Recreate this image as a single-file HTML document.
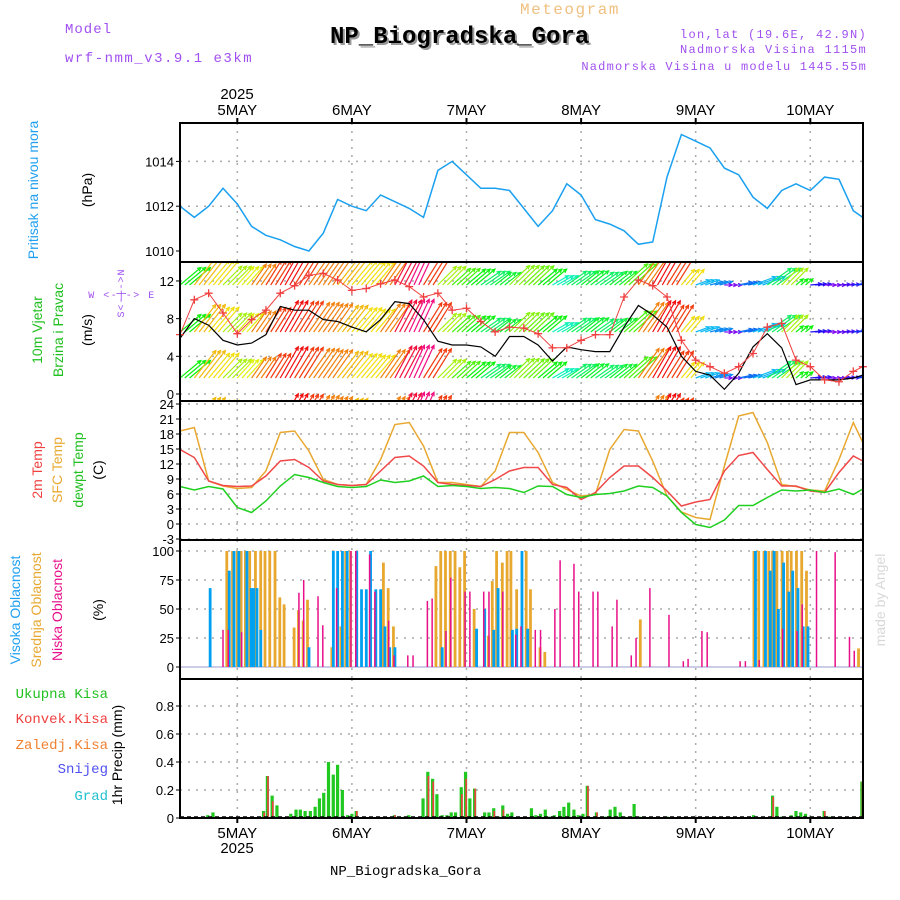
<!DOCTYPE html>
<html><head><meta charset="utf-8"><style>
html,body{margin:0;padding:0;background:#fff;}
svg{display:block;font-family:"Liberation Sans",sans-serif;}
.mono{font-family:"Liberation Mono",monospace;}
</style></head><body>
<svg id="chart" width="900" height="900" viewBox="0 0 900 900" xmlns="http://www.w3.org/2000/svg">
<defs><clipPath id="clipW"><rect x="180" y="262" width="683" height="139"/></clipPath></defs>
<text x="65" y="33" fill="#a050f0" font-size="14" class="mono" letter-spacing="1">Model</text>
<text x="65" y="62" fill="#a050f0" font-size="14" class="mono" letter-spacing="1.5">wrf-nmm_v3.9.1 e3km</text>
<text x="520" y="14" fill="#f0c080" font-size="16" class="mono" letter-spacing="1.5">Meteogram</text>
<text x="332" y="45" fill="#999" font-size="24" font-weight="bold" class="mono">NP_Biogradska_Gora</text>
<text x="330" y="43" fill="#000" font-size="24" font-weight="bold" class="mono">NP_Biogradska_Gora</text>
<text x="867" y="38" fill="#a050f0" font-size="12" text-anchor="end" class="mono" letter-spacing="1.3">lon,lat (19.6E, 42.9N)</text>
<text x="867" y="53" fill="#a050f0" font-size="12" text-anchor="end" class="mono" letter-spacing="1.3">Nadmorska Visina 1115m</text>
<text x="867" y="70" fill="#a050f0" font-size="12" text-anchor="end" class="mono" letter-spacing="1.2">Nadmorska Visina u modelu 1445.55m</text>
<text x="237" y="99" font-size="15" text-anchor="middle">2025</text>
<text x="330" y="875" font-size="14" class="mono">NP_Biogradska_Gora</text>
<text x="38" y="190" fill="#20a0f0" font-size="14" text-anchor="middle" transform="rotate(-90 38 190)">Pritisak na nivou mora</text>
<text x="92" y="190" font-size="14" text-anchor="middle" transform="rotate(-90 92 190)">(hPa)</text>
<text x="42" y="330" fill="#20c020" font-size="14" text-anchor="middle" transform="rotate(-90 42 330)">10m Vjetar</text>
<text x="63" y="330" fill="#20c020" font-size="14" text-anchor="middle" transform="rotate(-90 63 330)">Brzina i Pravac</text>
<text x="92" y="330" font-size="14" text-anchor="middle" transform="rotate(-90 92 330)">(m/s)</text>
<text x="124" y="293" fill="#a050f0" font-size="10" text-anchor="middle" transform="rotate(-90 124 293)" class="mono" letter-spacing="1">S&lt;-|-&gt;N</text>
<text x="122" y="298" fill="#a050f0" font-size="10" text-anchor="middle" class="mono" letter-spacing="1.5">W &lt;-|-&gt; E</text>
<text x="42" y="470" fill="#f04040" font-size="14" text-anchor="middle" transform="rotate(-90 42 470)">2m Temp</text>
<text x="62" y="470" fill="#e8a830" font-size="14" text-anchor="middle" transform="rotate(-90 62 470)">SFC Temp</text>
<text x="83" y="470" fill="#20c020" font-size="14" text-anchor="middle" transform="rotate(-90 83 470)">dewpt Temp</text>
<text x="103" y="470" font-size="14" text-anchor="middle" transform="rotate(-90 103 470)">(C)</text>
<text x="20" y="610" fill="#20a0f0" font-size="14" text-anchor="middle" transform="rotate(-90 20 610)">Visoka Oblacnost</text>
<text x="41" y="610" fill="#e8a830" font-size="14" text-anchor="middle" transform="rotate(-90 41 610)">Srednja Oblacnost</text>
<text x="62" y="610" fill="#e8108a" font-size="14" text-anchor="middle" transform="rotate(-90 62 610)">Niska Oblacnost</text>
<text x="103" y="610" font-size="14" text-anchor="middle" transform="rotate(-90 103 610)">(%)</text>
<text x="108" y="698" fill="#20c020" font-size="14" text-anchor="end" class="mono">Ukupna Kisa</text>
<text x="108" y="723" fill="#f04040" font-size="14" text-anchor="end" class="mono">Konvek.Kisa</text>
<text x="108" y="749" fill="#f08030" font-size="14" text-anchor="end" class="mono">Zaledj.Kisa</text>
<text x="108" y="773" fill="#5050f0" font-size="14" text-anchor="end" class="mono">Snijeg</text>
<text x="108" y="800" fill="#20c0d0" font-size="14" text-anchor="end" class="mono">Grad</text>
<text x="122" y="755" font-size="14" text-anchor="middle" transform="rotate(-90 122 755)">1hr Precip (mm)</text>
<text x="885" y="600" fill="#d8d8d8" font-size="14" text-anchor="middle" transform="rotate(-90 885 600)">made by Angel</text>
<text x="237" y="853" font-size="15" text-anchor="middle">2025</text>
<g id="grid"></g><g id="marks"></g><g id="frames"></g>
</svg>
<script>
// hours from 2025-05-04 12Z, 3-hourly series
const hours3 = [0,3,6,9,12,15,18,21,24,27,30,33,36,39,42,45,48,51,54,57,60,63,66,69,72,75,78,81,84,87,90,93,96,99,102,105,108,111,114,117,120,123,126,129,132,135,138,141,143];
const dayLabels = ["5MAY","6MAY","7MAY","8MAY","9MAY","10MAY"];
const pressure = [1012.0,1011.5,1012.0,1012.8,1012.1,1011.1,1010.7,1010.5,1010.2,1010.0,1010.8,1012.3,1012.0,1011.8,1012.5,1012.2,1011.9,1011.5,1013.6,1014.0,1013.4,1012.8,1012.8,1012.7,1011.9,1011.1,1011.8,1013.0,1012.5,1011.4,1011.2,1010.9,1010.3,1010.4,1013.3,1015.2,1014.9,1014.6,1013.7,1013.4,1012.4,1011.9,1012.7,1013.0,1012.7,1013.3,1013.2,1011.8,1011.5];
const windSpeed = [5.9,8.0,7.3,5.7,5.2,5.4,6.3,9.3,8.9,8.9,7.9,7.7,7.1,6.6,7.9,9.8,9.6,7.9,5.6,5.2,5.2,5.0,4.0,6.1,6.1,5.2,3.5,5.0,4.7,4.5,4.5,7.1,9.4,8.4,7.1,4.0,2.4,2.0,0.5,2.2,5.0,6.4,4.9,1.0,1.5,1.5,1.5,1.7,2.0];
const windGust = [6.3,10.0,10.7,8.6,6.4,7.9,8.9,10.7,11.5,12.6,12.8,12.1,11.0,11.2,11.7,12.1,11.4,10.3,10.7,8.9,9.1,7.7,6.6,7.1,7.0,6.4,4.9,4.9,5.7,6.3,6.3,10.3,12.1,11.5,10.3,5.7,3.6,2.9,2.2,2.9,4.3,7.1,7.5,3.6,2.9,1.5,1.3,2.4,2.9];
const windAngle = [40,52,50,45,48,55,58,60,58,55,55,52,50,50,55,62,65,58,45,42,40,35,38,44,43,40,30,35,38,35,38,42,55,60,58,50,20,15,0,12,20,35,45,40,5,0,3,8,8];
const temp2m = [14.9,13.3,8.6,7.7,7.5,7.6,9.6,12.6,12.9,11.3,8.6,7.9,7.7,7.9,10.6,13.3,13.6,11.6,8.3,7.9,7.7,7.5,8.9,10.6,11.3,11.3,7.9,7.3,4.9,6.3,9.3,11.6,11.6,9.3,6.6,3.6,4.4,4.9,10.6,13.7,14.3,10.9,7.6,7.6,6.6,6.3,10.3,13.6,12.6];
const tempSfc = [18.6,19.3,8.6,7.6,7.1,7.3,10.6,18.3,18.6,14.6,8.9,7.9,7.7,7.9,12.9,19.9,20.3,15.6,8.3,8.3,7.9,7.5,10.6,18.3,18.3,14.3,8.3,6.9,5.6,5.9,14.9,18.9,18.6,12.6,5.6,2.4,1.3,0.9,11.6,21.6,22.3,16.3,7.9,7.5,6.8,6.6,12.9,20.3,16.3];
const dewpt = [7.5,6.8,7.5,7.0,3.3,2.3,4.6,7.6,9.9,9.3,8.3,7.5,7.3,7.5,8.8,8.3,8.6,9.6,7.5,7.7,7.5,7.1,7.3,7.1,6.3,7.6,7.5,5.9,5.3,5.9,6.1,6.6,7.6,7.3,5.6,2.3,-0.1,-0.7,0.8,3.7,3.7,5.3,6.8,6.6,6.8,6.3,7.0,5.9,7.0];
const highH = [6,10,11,12,13.7,14.6,15.1,15.8,16.6,26.7,31.8,32.7,33.7,34.7,36.7,37.7,38.7,39.6,40.7,41.7,42.6,43.6,44.7,54.6,61.8,63.5,65.4,66.3,69.3,70.2,71.3,72.5,120.2,122.3,123.3,124.1,125,126.1,127.2,128,129.1,130.2,131.2];
const highV = [68,83,100,100,100,68,68,68,32,17,100,100,100,100,100,67,67,100,67,67,35,17,17,17,33,50,32,68,32,33,100,33,100,100,83,100,50,90,65,83,68,35,35];
const midH = [9.8,11,12,12.8,13.7,14.6,15.8,16.9,17.8,18.8,19.9,20.9,21.8,23.9,24.8,25.8,26.7,31.8,33.7,34.7,35.7,42.6,43.6,44.7,53.6,54.6,55.6,56.6,57.6,58.6,59.6,61.6,64.6,65.4,66.3,67.5,68.5,69.3,70.5,72.5,73.4,75.4,76.4,96.4,120.2,121.2,122.3,123.3,124.1,125,126.1,127.2,128,129.1,130.2,131.2,142.1];
const midV = [100,100,100,100,100,100,100,100,100,100,100,60,54,34,49,40,58,17,35,100,100,90,68,35,87,100,100,100,100,86,100,50,27,74,100,90,100,100,67,100,67,17,13,41,100,100,100,100,100,100,100,100,100,100,100,83,16];
const lowH = [8.9,10,12.8,24.8,25.8,28.8,29.8,32.7,35.7,36.7,39.6,40.7,43.6,44.7,47.6,48.7,51.7,52.7,55.6,56.6,59.6,60.6,63.5,64.6,67.5,70.2,71.3,74.3,75.4,78.4,79.5,82.4,83.4,86.4,87.4,90.4,91.4,94.4,95.4,98.3,102.3,105.3,106.3,109.2,110.3,117.2,118.3,121.2,126.1,129.1,130.2,133.2,137.1,140.1,141.1];
const lowV = [32,32,30,64,75,61,36,68,100,100,97,65,40,10,10,10,57,59,31,77,65,65,65,65,65,28,35,32,32,50,92,89,65,65,65,35,58,10,25,68,45,5,7,31,30,5,5,6,33,31,54,100,99,26,14];
const precipH = [5.8,6.9,17.5,18.3,19.3,20.3,23.2,24.3,25.2,26.2,27.3,28.3,29.2,30.1,31.1,32.1,33,34,35.1,36,36.9,44.9,47.1,47.9,50.9,51.9,52.9,53.8,54.9,55.9,56.8,57.7,58.9,59.8,60.7,61.7,63.8,64.7,65.7,66.7,67.6,68.6,69.5,70.7,73.6,74.5,75.5,76.5,77.4,78.4,79.5,80.4,81.4,82.5,83.4,84.4,85.3,87.2,89.2,90.1,91.1,92.2,93.1,94.1,95.1,96.2,97.1,102,120.1,124.1,125,126,128,129,130,131,132,134.9,135.9,142.8];
const precipV = [0.02,0.04,0.05,0.30,0.16,0.09,0.03,0.06,0.06,0.05,0.05,0.08,0.14,0.18,0.40,0.31,0.38,0.20,0.02,0.03,0.05,0.02,0.01,0.02,0.14,0.33,0.28,0.17,0.02,0.02,0.04,0.04,0.22,0.33,0.14,0.21,0.04,0.04,0.07,0.01,0.09,0.03,0.04,0.01,0.07,0.02,0.03,0.06,0.01,0.02,0.05,0.08,0.11,0.06,0.02,0.03,0.23,0.04,0.01,0.06,0.08,0.04,0.01,0.01,0.10,0.01,0.01,0.01,0.02,0.16,0.08,0.01,0.02,0.05,0.04,0.03,0.01,0.05,0.01,0.26];
const convH = [17.5,18.3,19.3,36.9,44.9,51.9,52.9,58.9,59.8,61.7,65.7,67.6,85.3,87.2,124.1,134.9,142.8];
const convV = [0.04,0.30,0.12,0.05,0.02,0.30,0.26,0.17,0.28,0.21,0.05,0.06,0.23,0.04,0.15,0.05,0.26];
const pTicks = [1010,1012,1014];
const wTicks = [0,4,8,12];
const tTicks = [-3,0,3,6,9,12,15,18,21,24];
const cTicks = [0,25,50,75,100];
const rTicks = [0,0.2,0.4,0.6,0.8];

const NS='http://www.w3.org/2000/svg';
const L=180,R=863;
const X=h=>L+h*4.775;
const yP=v=>251-(v-1010)*22.4;
const yW=v=>394-v*9.42;
const yT=v=>524-v*5;
const yC=v=>667-v*1.16;
const yR=v=>818-v*140;
function mk(tag,attrs,parent){const e=document.createElementNS(NS,tag);for(const k in attrs)e.setAttribute(k,attrs[k]);parent.appendChild(e);return e;}
const grid=document.getElementById('grid'),marks=document.getElementById('marks'),frames=document.getElementById('frames');
const panels=[[123,262,pTicks,yP,'pressure'],[262,401,wTicks,yW,'wind'],[401,540,tTicks,yT,'temp'],[540,679,cTicks,yC,'cloud'],[679,818,rTicks,yR,'precip']];
panels.forEach(([t,b,ticks,fy,nm])=>{
  for(let d=0;d<6;d++){const x=X(12+24*d);
    const ln=mk('line',{x1:x,x2:x,y1:t,y2:b,stroke:'#aaa','stroke-width':1.5,'stroke-dasharray':'2,6'},grid);
    
    }
  ticks.forEach(v=>{const y=fy(v);
    if(v!==ticks[0]||nm==='wind'||nm==='temp'){const g=mk('line',{x1:L,x2:R,y1:y,y2:y,stroke:'#aaa','stroke-width':1.5,'stroke-dasharray':'2,6'},grid);
      
      }
    mk('line',{x1:L-4,x2:L,y1:y,y2:y,stroke:'#000'},frames);
    const tx=mk('text',{x:L-6,y:y+5,'font-size':13,'text-anchor':'end'},frames);tx.textContent=String(v);
    
    });
  const f=mk('rect',{x:L,y:t,width:R-L,height:b-t,fill:'none',stroke:'#000','stroke-width':2},frames);
  
  
});
dayLabels.forEach((s,d)=>{const x=X(12+24*d);
  const a=mk('text',{x:x,y:115,'font-size':15,'text-anchor':'middle'},frames);a.textContent=s;
  
  
  const c=mk('text',{x:x,y:838,'font-size':15,'text-anchor':'middle'},frames);c.textContent=s;
  
  
  mk('line',{x1:x,x2:x,y1:118,y2:123,stroke:'#000','stroke-width':2},frames);
  mk('line',{x1:x,x2:x,y1:818,y2:823,stroke:'#000','stroke-width':2},frames);
});
function line(vals,fy,color,name,w){const pts=vals.map((v,i)=>X(hours3[i]).toFixed(1)+','+fy(v).toFixed(1)).join(' ');
  const p=mk('polyline',{points:pts,fill:'none',stroke:color,'stroke-width':w||1.5},marks);
  
  return p;}
line(pressure,yP,'#1aa0f0','pressure-line');
function hueFor(a){const st=[[0,270],[10,220],[20,195],[30,165],[40,120],[45,80],[50,55],[55,30],[60,0],[65,330]];
  if(a<=0)return 270;if(a>=65)return 330;for(let i=1;i<st.length;i++){if(a<=st[i][0]){const [a0,h0]=st[i-1],[a1,h1]=st[i];let hh=h1;if(h1>h0)hh=h1-360;return ((h0+(hh-h0)*(a-a0)/(a1-a0))+360)%360;}}return 0;}
const wg=mk('g',{'clip-path':'url(#clipW)'},marks);


[285,332,378,425].forEach(base=>{
  windAngle.forEach((a,i)=>{const len=Math.min(36,6+3.6*windSpeed[i]);const col='hsl('+hueFor(a)+',90%,50%)';
    const steps=(i<windAngle.length-1)?Math.min(3,Math.round(hours3[i+1]-hours3[i])):1;
    for(let k=0;k<steps;k++){const x0=X(hours3[i]+k);const rad=a*Math.PI/180;const x1=x0+len*Math.cos(rad),y1=base-len*Math.sin(rad);
      const g=mk('g',{stroke:col,'stroke-width':1.2,fill:'none'},wg);
      
      
      mk('line',{x1:x0,y1:base,x2:x1,y2:y1},g);
      const b1=rad+Math.PI-0.45,b2=rad+Math.PI+0.45;
      mk('polyline',{points:`${x1+4*Math.cos(b1)},${y1-4*Math.sin(b1)} ${x1},${y1} ${x1+4*Math.cos(b2)},${y1-4*Math.sin(b2)}`},g);}
  });});
line(windSpeed,yW,'#000','wind-speed-line',1.2);
line(windGust,yW,'#f04040','wind-gust-line',1);
windGust.forEach((v,i)=>{const x=X(hours3[i]),y=yW(v);
  const p=mk('path',{d:`M${x-4},${y}H${x+4}M${x},${y-4}V${y+4}`,stroke:'#f04040','stroke-width':1.3},marks);
  
  });
line(tempSfc,yT,'#e8a830','sfc-temp-line');
line(temp2m,yT,'#f04848','temp-2m-line');
line(dewpt,yT,'#20d020','dewpt-line');
const cb=mk('line',{x1:L,x2:R,y1:yC(0),y2:yC(0),stroke:'#99c','stroke-width':1},marks);


function bars(H,V,fy,color,w,off,name){H.forEach((h,i)=>{const x=X(h)+off,y=fy(V[i]),y0=fy(0);
  const r=mk('rect',{x:x-w/2,y:y,width:w,height:Math.max(0,y0-y),fill:color},marks);
  
  });}
bars(midH,midV,yC,'#e8a830',2.8,0,'mid-cloud-bar');
bars(highH,highV,yC,'#00a0f0',2.8,1.5,'high-cloud-bar');
bars(lowH,lowV,yC,'#e8108a',1.5,0.5,'low-cloud-bar');
bars(precipH,precipV,yR,'#20c820',3.2,0,'precip-bar');
bars(convH,convV,yR,'#f04040',1.6,0.6,'convective-bar');
const pb=mk('line',{x1:L,x2:R,y1:817,y2:817,stroke:'#000','stroke-width':1.5,'stroke-dasharray':'4,3'},marks);


</script>
</body></html>
